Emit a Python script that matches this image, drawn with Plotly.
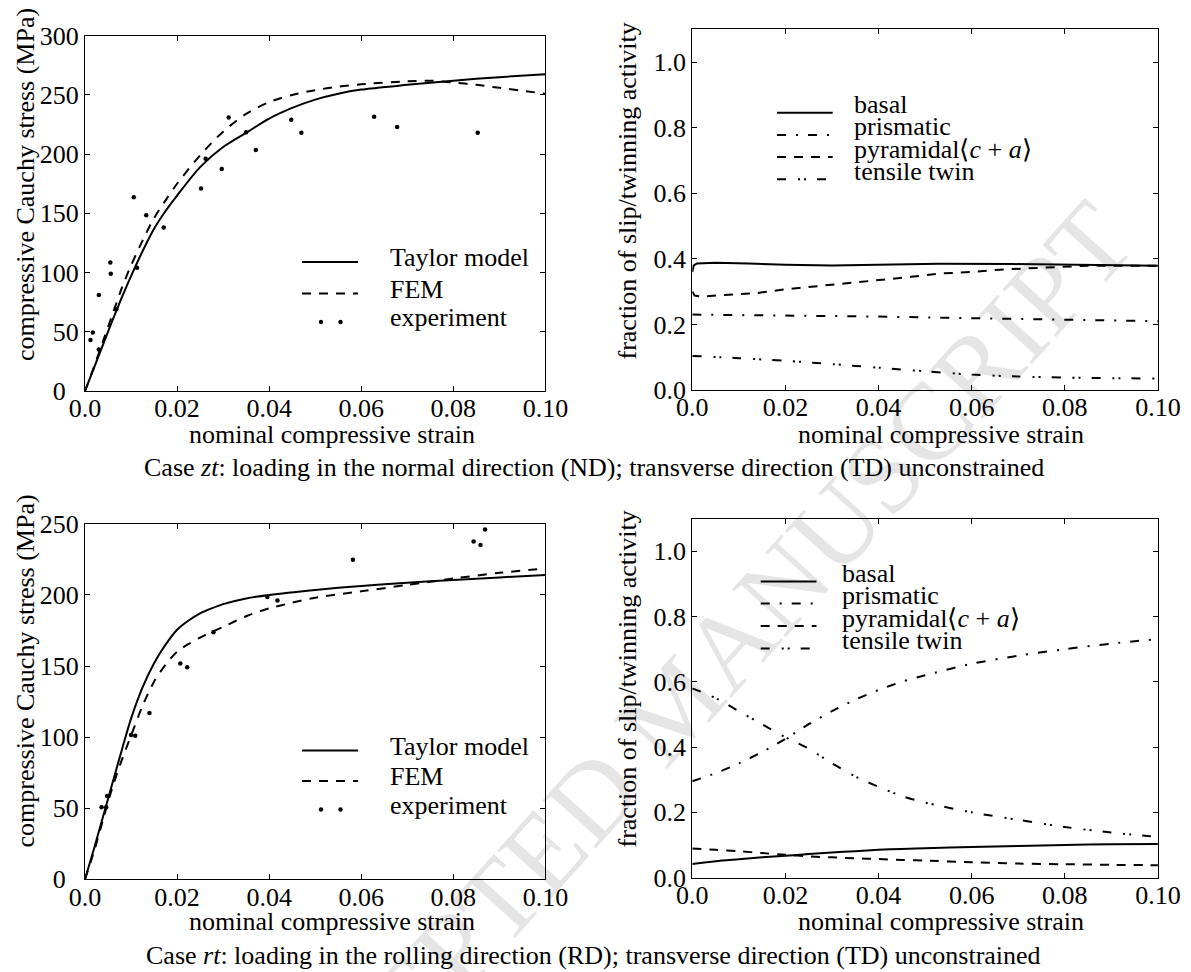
import plotly.graph_objects as go

# ---------------- data ----------------
# Case zt: stress-strain
zt_taylor_strain = [0, 0.002, 0.004, 0.006, 0.008, 0.01, 0.0125, 0.015, 0.0175, 0.02, 0.025, 0.03,
                    0.035, 0.04, 0.045, 0.05, 0.055, 0.06, 0.07, 0.08, 0.09, 0.1]
zt_taylor_stress = [0, 20, 40, 60, 79, 97, 118, 137, 152, 165, 189, 206,
                    218, 230, 239, 246, 251, 254.5, 258.5, 262, 265, 267.5]
zt_fem_strain = [0, 0.002, 0.004, 0.006, 0.008, 0.01, 0.0125, 0.015, 0.0175, 0.02, 0.025, 0.03,
                 0.035, 0.04, 0.045, 0.05, 0.055, 0.06, 0.07, 0.075, 0.08, 0.085, 0.09, 0.095, 0.1]
zt_fem_stress = [0, 21, 43, 65, 87, 106, 127, 146, 161, 175, 199, 219,
                 234, 244, 250, 254, 257, 259, 261.5, 262, 260.5, 258.5, 256, 253.5, 251]
zt_exp_strain = [0.0012, 0.0017, 0.003, 0.003, 0.0055, 0.0056, 0.0068, 0.0106, 0.0113, 0.0133,
                 0.0171, 0.0252, 0.0262, 0.0297, 0.0312, 0.035, 0.0371, 0.0448, 0.047, 0.0628,
                 0.0678, 0.0853]
zt_exp_stress = [43, 49.5, 81, 35, 108.5, 99, 69, 163.5, 104, 148.5,
                 138, 171, 196, 187.5, 231, 218.5, 203.5, 229, 218, 231.5,
                 223, 218]

# Case zt: slip / twinning activity
zt_basal_strain = [0, 0.0003, 0.001, 0.005, 0.012, 0.02, 0.03, 0.04, 0.053, 0.069, 0.085, 0.1]
zt_basal = [0.36, 0.38, 0.386, 0.388, 0.386, 0.382, 0.380, 0.382, 0.385, 0.384, 0.381, 0.379]
zt_pyr_strain = [0, 0.0005, 0.002, 0.007, 0.014, 0.02, 0.026, 0.033, 0.04, 0.047, 0.053, 0.06,
                 0.066, 0.073, 0.08, 0.085, 0.1]
zt_pyr = [0.30, 0.288, 0.285, 0.289, 0.296, 0.307, 0.315, 0.325, 0.335, 0.345, 0.355, 0.360,
          0.367, 0.371, 0.376, 0.379, 0.379]
zt_pris_strain = [0, 0.02, 0.04, 0.06, 0.08, 0.1]
zt_pris = [0.230, 0.228, 0.224, 0.219, 0.214, 0.210]
zt_twin_strain = [0, 0.01, 0.02, 0.03, 0.04, 0.05, 0.06, 0.07, 0.08, 0.09, 0.1]
zt_twin = [0.104, 0.097, 0.089, 0.079, 0.068, 0.057, 0.047, 0.041, 0.038, 0.036, 0.035]

# Case rt: stress-strain
rt_taylor_strain = [0, 0.002, 0.004, 0.006, 0.008, 0.01, 0.0125, 0.015, 0.0175, 0.02, 0.0225, 0.025,
                    0.0275, 0.03, 0.035, 0.04, 0.05, 0.06, 0.07, 0.08, 0.09, 0.1]
rt_taylor_stress = [0, 22, 45, 68, 91, 113, 135, 152, 165, 175.5, 182, 187,
                    190.5, 193.5, 197.5, 200, 203.5, 206.3, 208.5, 210.5, 212.3, 214]
rt_fem_strain = [0, 0.002, 0.004, 0.006, 0.008, 0.01, 0.0125, 0.015, 0.0175, 0.02, 0.0225, 0.025,
                 0.03, 0.035, 0.04, 0.045, 0.05, 0.06, 0.07, 0.08, 0.09, 0.1]
rt_fem_stress = [0, 20, 43, 65, 84, 101, 122, 139, 151, 160, 165.5, 170,
                 177.5, 185, 190.5, 194.5, 198, 202.5, 207, 211.5, 215.5, 218.5]
rt_exp_strain = [0.0036, 0.0046, 0.0048, 0.0100, 0.0109, 0.0140, 0.0207, 0.0222, 0.0279, 0.0396,
                 0.0418, 0.0582, 0.0844, 0.0859, 0.0869]
rt_exp_stress = [50.7, 50.7, 58.6, 101.5, 100.9, 117, 151.7, 149.2, 173.7, 198.5,
                 196, 224.7, 237.6, 235.1, 246]

# Case rt: slip / twinning activity
rt_strain = [0, 0.005, 0.01, 0.015, 0.02, 0.025, 0.03, 0.035, 0.04, 0.045, 0.05, 0.06, 0.07, 0.08, 0.09, 0.1]
rt_basal = [0.042, 0.050, 0.056, 0.062, 0.067, 0.072, 0.077, 0.081, 0.085, 0.088, 0.090, 0.094, 0.097, 0.100, 0.102, 0.103]
rt_pris = [0.295, 0.32, 0.35, 0.385, 0.425, 0.47, 0.51, 0.545, 0.575, 0.60, 0.62, 0.655, 0.68, 0.70, 0.717, 0.731]
rt_pyr = [0.089, 0.085, 0.081, 0.075, 0.070, 0.065, 0.062, 0.059, 0.057, 0.054, 0.052, 0.047, 0.043, 0.041, 0.039, 0.038]
rt_twin = [0.58, 0.55, 0.51, 0.47, 0.43, 0.395, 0.35, 0.31, 0.278, 0.25, 0.23, 0.20, 0.177, 0.155, 0.138, 0.125]

strain_ticks = [0, 0.02, 0.04, 0.06, 0.08, 0.1]
strain_ticktext = ["0.0", "0.02", "0.04", "0.06", "0.08", "0.10"]
stress_ticks_zt = [0, 50, 100, 150, 200, 250, 300]
stress_ticks_rt = [0, 50, 100, 150, 200, 250]
frac_ticks = [0, 0.2, 0.4, 0.6, 0.8, 1.0]
frac_ticktext = ["0.0", "0.2", "0.4", "0.6", "0.8", "1.0"]

stress_legend = ["Taylor model", "FEM", "experiment"]
activity_legend = ["basal", "prismatic", "pyramidal⟨<i>c</i> + <i>a</i>⟩", "tensile twin"]
captions = ["Case <i>zt</i>: loading in the normal direction (ND); transverse direction (TD) unconstrained",
            "Case <i>rt</i>: loading in the rolling direction (RD); transverse direction (TD) unconstrained"]

# ---------------- styles ----------------
W, H = 1191, 972
FONT = "Liberation Serif, 'Times New Roman', Times, serif"
FS = 26
LW = 2
DASH = "9px,8px"
DASHDOT = "9px,10px,2px,10px"
DASHDOTDOT = "9px,12px,2px,4px,2px,11px"


def px(x):
    return x / W


def py(y):
    return 1 - y / H


# axes boxes in page pixels: left, top, right, bottom
boxes = {
    "tl": (85, 35.7, 545.4, 391),
    "tr": (692.3, 29.3, 1157.9, 390),
    "bl": (85, 523.8, 545.4, 879.3),
    "br": (692.3, 518.6, 1157.9, 877.6),
}

fig = go.Figure()


def line(x, y, ax, dash="solid", shape="spline"):
    fig.add_trace(go.Scatter(
        x=x, y=y, mode="lines", xaxis="x" + ax, yaxis="y" + ax,
        line=dict(color="black", width=LW, dash=dash, shape=shape, smoothing=0.8),
        hoverinfo="skip"))


def dots(x, y, ax):
    fig.add_trace(go.Scatter(
        x=x, y=y, mode="markers", xaxis="x" + ax, yaxis="y" + ax,
        marker=dict(color="black", size=4.5, line=dict(width=0)), hoverinfo="skip"))


# top left: zt stress
line(zt_taylor_strain, zt_taylor_stress, "")
line(zt_fem_strain, zt_fem_stress, "", DASH)
dots(zt_exp_strain, zt_exp_stress, "")
# top right: zt activity
line(zt_basal_strain, zt_basal, "2", shape="linear")
line(zt_pris_strain, zt_pris, "2", DASHDOT, shape="linear")
line(zt_pyr_strain, zt_pyr, "2", DASH, shape="linear")
line(zt_twin_strain, zt_twin, "2", DASHDOTDOT)
# bottom left: rt stress
line(rt_taylor_strain, rt_taylor_stress, "3")
line(rt_fem_strain, rt_fem_stress, "3", DASH)
dots(rt_exp_strain, rt_exp_stress, "3")
# bottom right: rt activity
line(rt_strain, rt_basal, "4")
line(rt_strain, rt_pris, "4", DASHDOT)
line(rt_strain, rt_pyr, "4", DASH)
line(rt_strain, rt_twin, "4", DASHDOTDOT)

axis_common = dict(
    showline=True, linecolor="black", linewidth=1.2, mirror="ticks",
    ticks="inside", ticklen=5, tickwidth=1, tickcolor="black",
    showgrid=False, zeroline=False, automargin=False,
    tickfont=dict(family=FONT, size=FS, color="black"),
)


def stress_ticktext(vals):
    return ["0\u00a0\u00a0" if v == 0 else str(v) for v in vals]


layout_axes = {}
for key, suffix, ymax, yt, ytt in [
    ("tl", "", 300, stress_ticks_zt, stress_ticktext(stress_ticks_zt)),
    ("tr", "2", 1.1, frac_ticks, frac_ticktext),
    ("bl", "3", 250, stress_ticks_rt, stress_ticktext(stress_ticks_rt)),
    ("br", "4", 1.1, frac_ticks, frac_ticktext),
]:
    l, t, r, b = boxes[key]
    layout_axes["xaxis" + suffix] = dict(
        axis_common, domain=[px(l), px(r)], range=[0, 0.1], anchor="y" + suffix,
        tickvals=strain_ticks, ticktext=strain_ticktext, ticklabelstandoff=-6)
    layout_axes["yaxis" + suffix] = dict(
        axis_common, domain=[py(b), py(t)], range=[0, ymax], anchor="x" + suffix,
        tickvals=yt, ticktext=ytt, ticklabelstandoff=0)

fig.update_layout(**layout_axes)

annotations = []
shapes = []


def text(x, y, s, size=FS, angle=0, xanchor="center", color="black"):
    annotations.append(dict(
        x=px(x), y=py(y), xref="paper", yref="paper", text=s, showarrow=False,
        textangle=angle, xanchor=xanchor, yanchor="middle",
        font=dict(family=FONT, size=size, color=color)))


# axis titles
for cx, cy in [(25, 185), (25, 671.5)]:
    text(cx, cy, "compressive Cauchy stress (MPa)", angle=-90)
for cx, cy in [(627, 191.5), (627, 679.5)]:
    text(cx, cy, "fraction of slip/twinning activity", angle=-90)
for cx, cy in [(331.5, 434), (941, 434), (331.5, 921.5), (941, 921.5)]:
    text(cx, cy, "nominal compressive strain")

# case captions
text(593.5, 468, captions[0])
text(593.5, 955, captions[1])


# legend keys
def key_line(x0, x1, y, dash):
    shapes.append(dict(type="line", xref="paper", yref="paper",
                       x0=px(x0), x1=px(x1), y0=py(y), y1=py(y),
                       line=dict(color="black", width=LW, dash=dash)))


def key_dot(x, y):
    shapes.append(dict(type="circle", xref="paper", yref="paper",
                       xsizemode="pixel", ysizemode="pixel",
                       xanchor=px(x), yanchor=py(y), x0=-2.2, x1=2.2, y0=-2.2, y1=2.2,
                       fillcolor="black", line=dict(width=0)))


for rows in [(262, 293.5, 322), (750.5, 781, 809.5)]:
    key_line(302, 358, rows[0], "solid")
    key_line(302, 358, rows[1], DASH)
    key_dot(321, rows[2])
    key_dot(340.5, rows[2])
    for lab, yy in zip(stress_legend, rows):
        text(388, yy - 4.5, lab, xanchor="left")

for (lx0, lx1, tx), rows in [((777, 832.7, 852), (112.7, 134.9, 157.1, 179.3)),
                             ((760.7, 816.5, 840), (581.5, 603.5, 626, 648.5))]:
    for dash, lab, yy in zip(["solid", DASHDOT, DASH, DASHDOTDOT], activity_legend, rows):
        key_line(lx0, lx1, yy, dash)
        text(tx, yy - 8, lab, xanchor="left")

# watermark
annotations.append(dict(
    x=px(675), y=py(705), xref="paper", yref="paper", text="ACCEPTED MANUSCRIPT",
    showarrow=False, textangle=-48, xanchor="center", yanchor="middle",
    font=dict(family=FONT, size=110, color="rgba(0,0,0,0.10)")))

fig.update_layout(
    width=W, height=H, margin=dict(l=0, r=0, t=0, b=0, autoexpand=False),
    paper_bgcolor="white", plot_bgcolor="white", showlegend=False,
    font=dict(family=FONT, size=FS, color="black"),
    annotations=annotations, shapes=shapes,
)

fig.write_html("out.html")
